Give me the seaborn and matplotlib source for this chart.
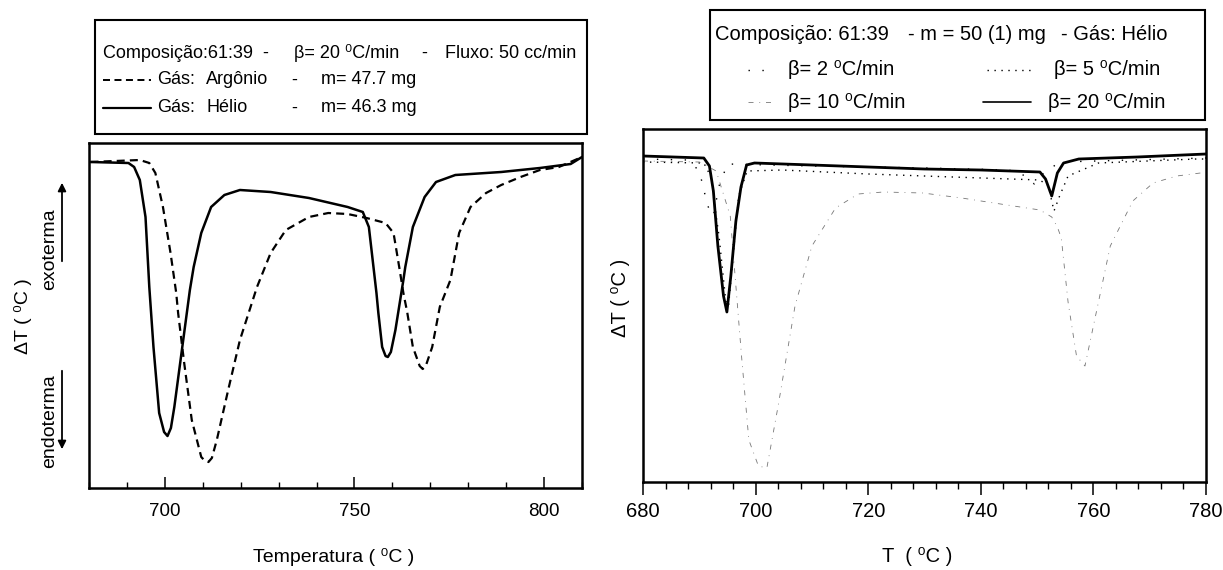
import numpy as np
import pandas as pd
import seaborn as sns
import matplotlib.pyplot as plt
from matplotlib.ticker import MultipleLocator
from matplotlib.patches import Rectangle, FancyArrowPatch
from matplotlib.lines import Line2D

# ---- left panel: 61:39, beta = 20 C/min, argon vs helium (DeltaT, arbitrary units)
temp_he = [680.4, 690.4, 691.9, 693.4, 694.9, 695.9, 697.0, 698.5, 699.8, 700.7,
           701.6, 702.5, 704.6, 706.6, 707.6, 709.6, 712.2, 715.7, 719.8, 727.9,
           738.0, 748.2, 752.2, 753.8, 754.8, 755.8, 756.3, 757.3, 758.2, 758.8,
           759.6, 760.8, 762.9, 763.4, 765.4, 768.5, 771.5, 776.6, 788.7, 798.9,
           807.0, 810.0]
dt_he = [0.0, -0.1, -0.5, -1.8, -5.5, -12.5, -18.5, -25.1, -27.0, -27.4,
         -26.6, -24.5, -18.5, -12.8, -10.5, -7.1, -4.5, -3.3, -2.8, -3.0,
         -3.6, -4.5, -5.0, -6.5, -9.8, -13.1, -15.1, -18.5, -19.4, -19.5,
         -19.0, -16.8, -11.8, -10.5, -6.5, -3.5, -2.0, -1.3, -1.0, -0.6,
         -0.2, 0.5]

temp_ar = [680.4, 693.4, 695.9, 697.5, 699.5, 701.5, 703.0, 703.5, 705.1, 707.1,
           709.6, 710.6, 711.5, 712.4, 713.7, 716.7, 719.8, 724.3, 727.9, 731.9,
           738.0, 743.1, 748.2, 753.2, 758.2, 760.3, 761.8, 762.9, 763.9, 765.4,
           767.2, 768.0, 768.8, 770.5, 772.5, 775.3, 777.6, 780.6, 784.7, 788.7,
           793.8, 798.9, 803.9, 810.0]
dt_ar = [0.0, 0.2, -0.1, -1.1, -4.5, -9.1, -13.1, -15.1, -20.1, -25.8,
         -29.5, -29.9, -30.0, -29.6, -27.8, -22.8, -17.8, -12.5, -9.1, -6.8,
         -5.5, -5.1, -5.2, -5.6, -6.1, -7.1, -10.5, -13.1, -15.0, -18.5,
         -20.4, -20.7, -20.4, -18.5, -14.5, -11.8, -7.1, -4.5, -3.1, -2.3,
         -1.5, -0.8, -0.5, 0.5]

# ---- right panel: helium, m = 50 mg, four heating rates
temp_b20 = [680.0, 690.8, 691.8, 692.5, 693.3, 694.3, 694.9, 695.6, 696.5, 697.4,
            698.4, 699.8, 710.0, 720.0, 730.0, 740.0, 750.5, 751.5, 752.6, 753.6,
            754.7, 757.4, 767.8, 780.0]
dt_b20 = [0.0, -0.2, -1.0, -3.5, -9.0, -14.0, -15.6, -12.0, -6.5, -3.1,
          -0.9, -0.7, -0.9, -1.1, -1.3, -1.4, -1.6, -2.3, -4.0, -1.7,
          -0.7, -0.3, -0.1, 0.2]

temp_b5 = [680.0, 690.8, 692.0, 693.5, 694.7, 695.2, 696.0, 697.0, 698.5, 704.7,
           720.0, 735.0, 750.5, 752.0, 753.0, 754.0, 755.5, 760.9, 778.3, 780.0]
dt_b5 = [-0.6, -0.7, -2.0, -8.0, -14.5, -15.0, -10.0, -4.0, -1.5, -1.4,
         -1.8, -2.1, -2.4, -3.0, -5.5, -4.0, -2.0, -0.7, -0.3, -0.3]

temp_b10 = [680.0, 690.0, 693.0, 695.5, 697.5, 698.8, 700.5, 702.0, 704.0, 707.0,
            710.0, 714.2, 718.2, 722.7, 729.7, 736.6, 743.5, 750.5, 752.6, 753.6,
            754.3, 755.5, 757.0, 758.5, 760.0, 763.0, 767.0, 770.6, 774.8, 779.0]
dt_b10 = [-0.5, -0.6, -1.5, -6.0, -20.0, -28.4, -31.0, -31.2, -25.0, -15.0,
          -9.0, -5.2, -3.8, -3.6, -3.7, -4.2, -4.8, -5.4, -6.1, -7.1,
          -8.2, -14.6, -20.0, -21.0, -17.0, -9.0, -4.5, -2.7, -2.0, -1.7]

temp_b2 = [680.0, 688.0, 690.0, 691.5, 692.5, 693.5, 695.0, 710.0, 730.0, 745.0,
           748.0, 749.5, 751.0, 754.0, 780.0]
dt_b2 = [-0.3, -0.4, -1.5, -5.0, -6.0, -3.0, -0.8, -1.0, -1.2, -1.4,
         -2.0, -2.8, -1.8, -0.6, -0.2]

W, H = 1223, 570


def fx(px):
    return px / W


def fy(py):
    return 1 - py / H


sns.set_style("white")
plt.rcParams['font.family'] = ['Liberation Sans', 'DejaVu Sans']
plt.rcParams['axes.linewidth'] = 1.8
plt.rcParams['axes.edgecolor'] = 'black'
plt.rcParams['text.color'] = 'black'
plt.rcParams['xtick.color'] = 'black'
plt.rcParams['xtick.labelcolor'] = 'black'

fig = plt.figure(figsize=(W / 100, H / 100), dpi=100)

# ---------------- left panel ----------------
ax1 = fig.add_axes([fx(89), fy(488), fx(582) - fx(89), fy(143) - fy(488)])
sns.lineplot(x=temp_ar, y=dt_ar, ax=ax1, color='black', lw=1.6, sort=False, estimator=None)
ax1.lines[-1].set_linestyle((0, (3.6, 2.3)))
sns.lineplot(x=temp_he, y=dt_he, ax=ax1, color='black', lw=1.8, sort=False, estimator=None)
ax1.set_xlim(680, 810)
ax1.set_ylim(-32.6, 1.9)
ax1.set_xticks([700, 750, 800])
ax1.xaxis.set_minor_locator(MultipleLocator(10))
ax1.set_yticks([])
ax1.tick_params(axis='x', which='major', direction='in', length=8, width=1.1,
                labelsize=13.5, pad=11, bottom=True)
ax1.tick_params(axis='x', which='minor', direction='in', length=4, width=1.0, bottom=True)
ax1.set_xlabel('')
ax1.set_ylabel('')

fig.text(fx(334), fy(557), 'Temperatura ( \u2070C )', ha='center', va='center', fontsize=14)
fig.text(fx(23), fy(316), '\u0394T ( \u2070C )', ha='center', va='center', fontsize=14, rotation=90)
fig.text(fx(50), fy(249), 'exoterma', ha='center', va='center', fontsize=14, rotation=90)
fig.text(fx(50), fy(421), 'endoterma', ha='center', va='center', fontsize=14, rotation=90)
fig.add_artist(FancyArrowPatch((fx(62), fy(264)), (fx(62), fy(180)), transform=fig.transFigure,
                               arrowstyle='-|>', mutation_scale=12, lw=1.3, color='black'))
fig.add_artist(FancyArrowPatch((fx(62), fy(368)), (fx(62), fy(452)), transform=fig.transFigure,
                               arrowstyle='-|>', mutation_scale=12, lw=1.3, color='black'))

# legend box, left
fig.add_artist(Rectangle((fx(95), fy(134)), fx(587) - fx(95), fy(20) - fy(134),
                         transform=fig.transFigure, fill=False, lw=1.5, ec='black'))
lfs = 13
for txt, x in [('Composição:61:39  -', 103), ('\u03b2= 20 \u2070C/min', 294),
               ('-', 421), ('Fluxo: 50 cc/min', 445)]:
    fig.text(fx(x), fy(53), txt, ha='left', va='center', fontsize=lfs)
for txt, x in [('Gás:', 157), ('Argônio', 206), ('-', 291), ('m= 47.7 mg', 321)]:
    fig.text(fx(x), fy(80), txt, ha='left', va='center', fontsize=lfs)
for txt, x in [('Gás:', 157), ('Hélio', 206), ('-', 291), ('m= 46.3 mg', 321)]:
    fig.text(fx(x), fy(108), txt, ha='left', va='center', fontsize=lfs)
fig.add_artist(Line2D([fx(103), fx(151)], [fy(80), fy(80)], transform=fig.transFigure,
                      color='black', lw=1.4, linestyle=(0, (3.6, 2.3))))
fig.add_artist(Line2D([fx(103), fx(151)], [fy(108), fy(108)], transform=fig.transFigure,
                      color='black', lw=1.6))

# ---------------- right panel ----------------
ax2 = fig.add_axes([fx(643), fy(482), fx(1206) - fx(643), fy(129) - fy(482)])
sns.lineplot(x=temp_b2, y=dt_b2, ax=ax2, color='black', lw=1.0, sort=False, estimator=None)
ax2.lines[-1].set_linestyle((0, (1, 9)))
sns.lineplot(x=temp_b5, y=dt_b5, ax=ax2, color='black', lw=1.0, sort=False, estimator=None)
ax2.lines[-1].set_linestyle((0, (1, 4)))
sns.lineplot(x=temp_b10, y=dt_b10, ax=ax2, color='#777777', lw=0.6, sort=False, estimator=None)
ax2.lines[-1].set_linestyle((0, (6, 7, 1, 7)))
sns.lineplot(x=temp_b20, y=dt_b20, ax=ax2, color='black', lw=2.0, sort=False, estimator=None)
ax2.set_xlim(680, 780)
ax2.set_ylim(-32.6, 2.7)
ax2.set_xticks(np.arange(680, 781, 20))
ax2.xaxis.set_minor_locator(MultipleLocator(4))
ax2.set_yticks([])
ax2.tick_params(axis='x', which='major', direction='out', length=9.5, width=1.1,
                labelsize=14.5, pad=5, bottom=True)
ax2.tick_params(axis='x', which='minor', direction='out', length=5, width=1.0, bottom=True)
ax2.set_xlabel('')
ax2.set_ylabel('')

fig.text(fx(917), fy(557), 'T  ( \u2070C )', ha='center', va='center', fontsize=14.5)
fig.text(fx(620), fy(298), '\u0394T ( \u2070C )', ha='center', va='center', fontsize=14.5, rotation=90)

# legend box, right
fig.add_artist(Rectangle((fx(710), fy(120)), fx(1205) - fx(710), fy(10) - fy(120),
                         transform=fig.transFigure, fill=False, lw=1.5, ec='black'))
rfs = 14.5
for txt, x in [('Composição: 61:39', 715), ('- m = 50 (1) mg', 908), ('- Gás: Hélio', 1061)]:
    fig.text(fx(x), fy(35), txt, ha='left', va='center', fontsize=rfs)
fig.text(fx(788), fy(70), '\u03b2= 2 \u2070C/min', ha='left', va='center', fontsize=rfs)
fig.text(fx(1054), fy(70), '\u03b2= 5 \u2070C/min', ha='left', va='center', fontsize=rfs)
fig.text(fx(788), fy(102), '\u03b2= 10 \u2070C/min', ha='left', va='center', fontsize=rfs)
fig.text(fx(1048), fy(102), '\u03b2= 20 \u2070C/min', ha='left', va='center', fontsize=rfs)
fig.add_artist(Line2D([fx(748), fx(767)], [fy(70), fy(70)], transform=fig.transFigure,
                      color='black', lw=1.0, linestyle=(0, (1, 9))))
fig.add_artist(Line2D([fx(987), fx(1031)], [fy(70), fy(70)], transform=fig.transFigure,
                      color='black', lw=1.0, linestyle=(0, (1, 4))))
fig.add_artist(Line2D([fx(748), fx(776)], [fy(102), fy(102)], transform=fig.transFigure,
                      color='#777777', lw=0.6, linestyle=(0, (6, 7, 1, 7))))
fig.add_artist(Line2D([fx(983), fx(1031)], [fy(102), fy(102)], transform=fig.transFigure,
                      color='black', lw=1.2))

fig.savefig('out.png', dpi=100)
